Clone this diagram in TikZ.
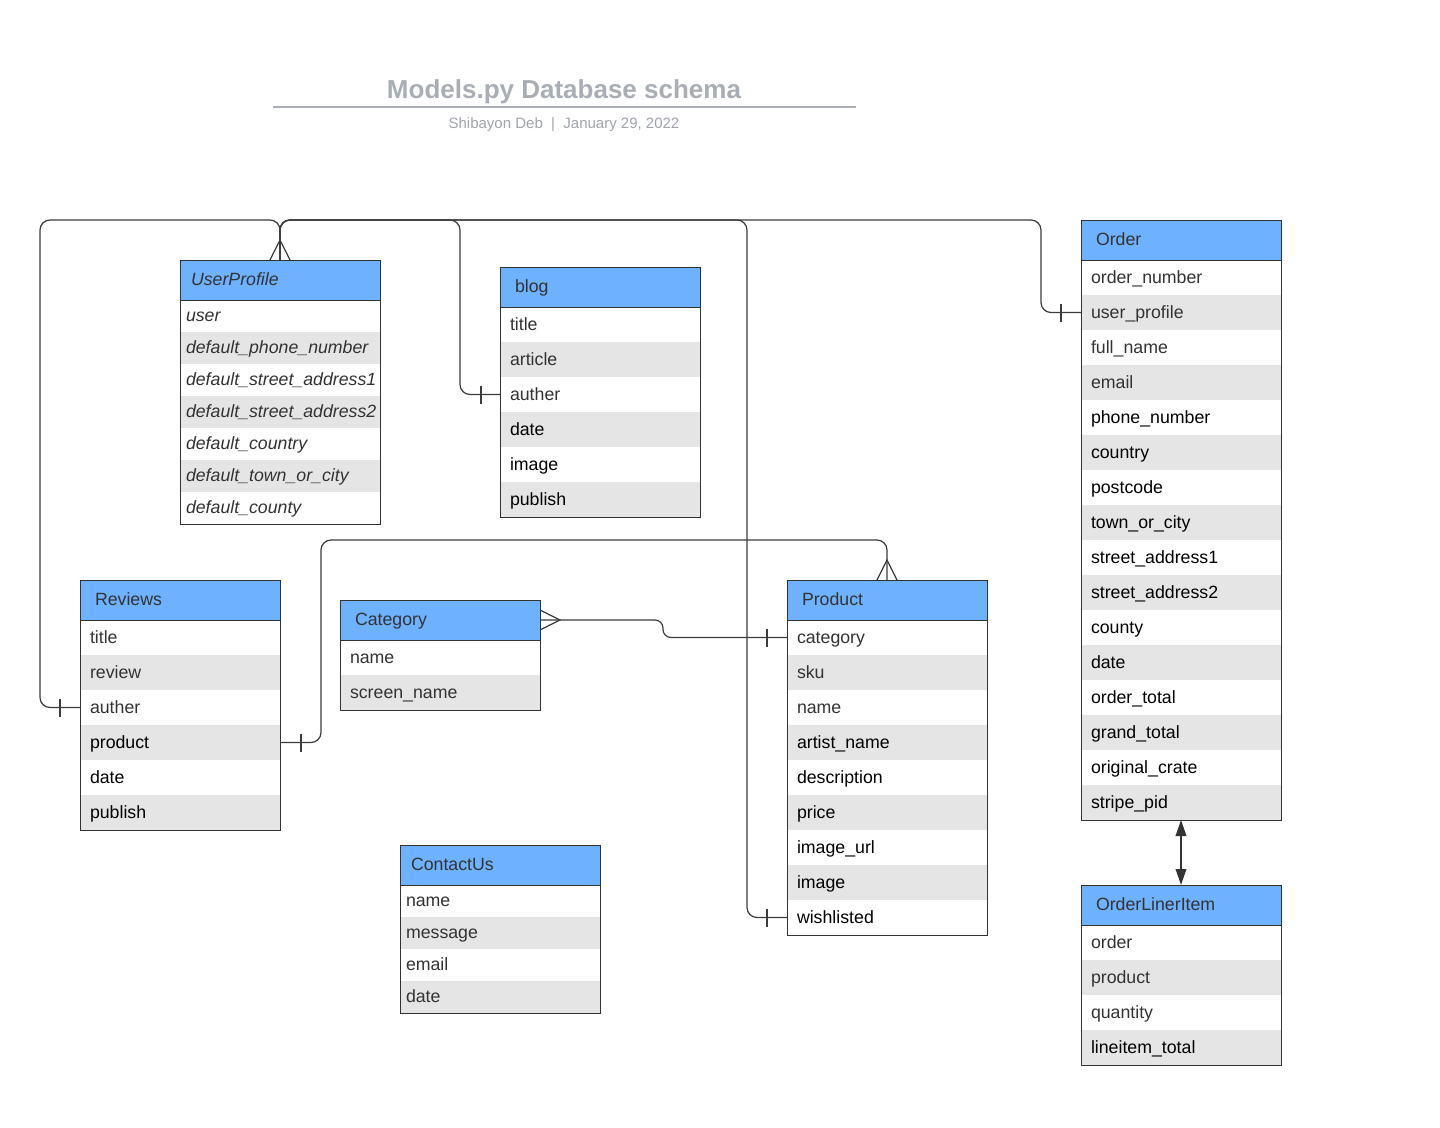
\documentclass[tikz,border=0pt]{standalone}
\usepackage{fontspec}
\setmainfont{Liberation Sans}
\usetikzlibrary{calc,arrows.meta}

\definecolor{hdr}{HTML}{6DB1FF}
\definecolor{rw}{HTML}{FFFFFF}
\definecolor{rg}{HTML}{E5E5E5}
\definecolor{tA}{HTML}{333333}
\definecolor{tB}{HTML}{000000}
\definecolor{edge}{HTML}{333333}
\definecolor{wire}{HTML}{3C3C3C}
\definecolor{titlegray}{HTML}{A9ADB6}
\definecolor{subgray}{HTML}{A0A4AC}

\tikzset{
  cellbase/.style={anchor=north west, outer sep=0pt, inner ysep=0pt,
    align=left, text height=11.6pt, text depth=3pt,
    font=\fontsize{13.3}{15}\selectfont},
  hdrcell/.style={cellbase, fill=hdr, text=tA, minimum height=30pt},
  tableedge/.style={draw=edge, line width=0.75pt},
  conn/.style={draw=wire, line width=0.9pt, rounded corners=7.5pt},
  tick/.style={draw=wire, line width=0.9pt},
  biarrow/.style={draw=edge, line width=1.1pt,
    {Triangle[length=12pt,width=8pt]}-{Triangle[length=12pt,width=8pt]}},
}

% #1 name, #2 x, #3 y, #4 header, #5 row height (px), #6 text padding (px),
% #7 extra cell style, #8 rows as text/fill/textcolour
\newcommand\erdtable[8]{%
  \pgfmathsetmacro\padpt{#6*0.75}%
  \pgfmathsetmacro\twpt{150-1.5*#6}%
  \pgfmathsetmacro\hpadpt{(#6+5)*0.75}%
  \pgfmathsetmacro\htwpt{150-1.5*(#6+5)}%
  \pgfmathsetmacro\rhpt{#5*0.75}%
  \node[hdrcell, #7, inner xsep=\hpadpt pt, text width=\htwpt pt] (#1-h) at (#2,#3) {#4};
  \foreach \txt/\bg/\fg [count=\i] in {#8}{
    \node[cellbase, #7, fill=\bg, text=\fg, minimum height=\rhpt pt,
      inner xsep=\padpt pt, text width=\twpt pt]
      (#1-\i) at ({#2},{#3+40+(\i-1)*#5}) {\txt};
    \xdef\erdlast{\i}
  }
  \draw[tableedge] (#1-h.north west) rectangle (#1-\erdlast.south east);
  \draw[tableedge] (#1-h.south west) -- (#1-h.south east);
}

\begin{document}
\begin{tikzpicture}[x=0.75pt,y=-0.75pt]
\useasboundingbox (0,0) rectangle (1440,1128);

% heading
\node[font=\bfseries\fontsize{19.5}{23}\selectfont, text=titlegray] (title) at (564,92) {Models.py Database schema};
\draw[titlegray, line width=1.4pt] (273,107) -- (856,107);
\node[font=\fontsize{11.25}{13}\selectfont, text=subgray] (byline) at (564,125) {Shibayon Deb\ \ |\ \ January 29, 2022};

% tables
\erdtable{up}{180}{260}{UserProfile}{32}{6}{font=\itshape\fontsize{13.3}{15}\selectfont}{%
  user/rw/tA, default\_phone\_number/rg/tA, default\_street\_address1/rw/tA,
  default\_street\_address2/rg/tA, default\_country/rw/tA, default\_town\_or\_city/rg/tA,
  default\_county/rw/tA}

\erdtable{blog}{500}{267}{blog}{35}{10}{}{%
  title/rw/tA, article/rg/tA, auther/rw/tA, date/rg/tB, image/rw/tB, publish/rg/tB}

\erdtable{rev}{80}{580}{Reviews}{35}{10}{}{%
  title/rw/tA, review/rg/tA, auther/rw/tA, product/rg/tB, date/rw/tB, publish/rg/tB}

\erdtable{cat}{340}{600}{Category}{35}{10}{}{%
  name/rw/tA, screen\_name/rg/tA}

\erdtable{prod}{787}{580}{Product}{35}{10}{}{%
  category/rw/tA, sku/rg/tA, name/rw/tA, artist\_name/rg/tB, description/rw/tB,
  price/rg/tB, image\_url/rw/tB, image/rg/tB, wishlisted/rw/tB}

\erdtable{ord}{1081}{220}{Order}{35}{10}{}{%
  order\_number/rw/tA, user\_profile/rg/tA, full\_name/rw/tA, email/rg/tA,
  phone\_number/rw/tB, country/rg/tB, postcode/rw/tB, town\_or\_city/rg/tB,
  street\_address1/rw/tB, street\_address2/rg/tB, county/rw/tB, date/rg/tB,
  order\_total/rw/tB, grand\_total/rg/tB, original\_crate/rw/tB, stripe\_pid/rg/tB}

\erdtable{oli}{1081}{885}{OrderLinerItem}{35}{10}{}{%
  order/rw/tA, product/rg/tA, quantity/rw/tA, lineitem\_total/rg/tB}

\erdtable{cu}{400}{845}{ContactUs}{32}{6}{}{%
  name/rw/tA, message/rg/tA, email/rw/tA, date/rg/tA}

% UserProfile relations (many side on UserProfile)
\draw[conn] (up-h.north) |- (40,220) |- (rev-3.west);
\draw[conn] (up-h.north) |- (460,220) |- (blog-3.west);
\draw[conn] (up-h.north) |- (747,220) |- (prod-9.west);
\draw[conn] (up-h.north) |- (1041,220) |- (ord-2.west);
\draw[tick] ($(up-h.north)+(-10,0)$) -- ($(up-h.north)+(0,-20)$) -- ($(up-h.north)+(10,0)$);
\draw[tick] ($(rev-3.west)+(-20,-9)$) -- ++(0,18);
\draw[tick] ($(blog-3.west)+(-19,-9)$) -- ++(0,18);
\draw[tick] ($(prod-9.west)+(-20,-9)$) -- ++(0,18);
\draw[tick] ($(ord-2.west)+(-20,-9)$) -- ++(0,18);

% Category - Product
\draw[conn, rounded corners=6pt] (cat-h.east) -- (663,620) |- (prod-1.west);
\draw[tick] ($(cat-h.east)+(0,-10)$) -- ($(cat-h.east)+(20,0)$) -- ($(cat-h.east)+(0,10)$);
\draw[tick] ($(prod-1.west)+(-20,-9)$) -- ++(0,18);

% Reviews - Product
\draw[conn] (rev-4.east) -| (321,540) -| (prod-h.north);
\draw[tick] ($(prod-h.north)+(-10,0)$) -- ($(prod-h.north)+(0,-20)$) -- ($(prod-h.north)+(10,0)$);
\draw[tick] ($(rev-4.east)+(21,-9)$) -- ++(0,18);

% Order - OrderLinerItem
\draw[biarrow, fill=edge] (ord-16.south) -- (oli-h.north);

\end{tikzpicture}
\end{document}
